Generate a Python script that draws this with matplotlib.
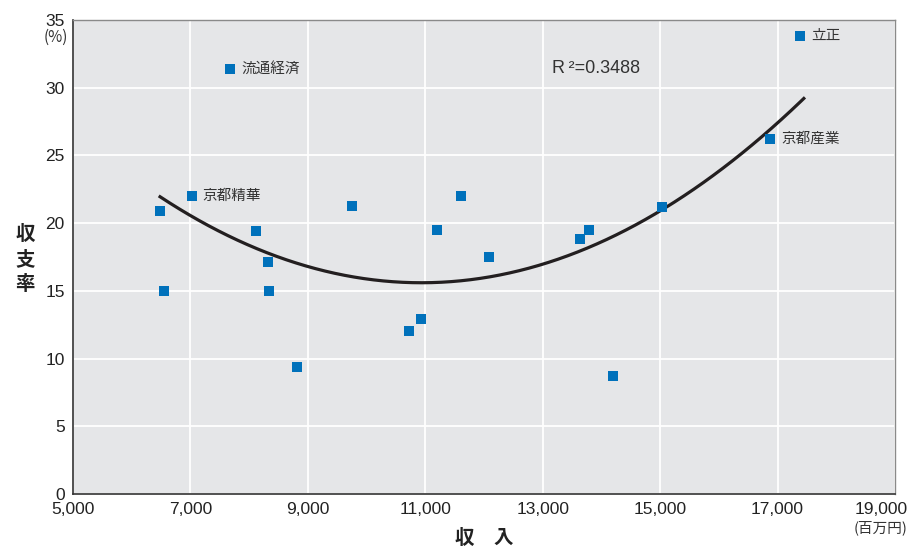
import numpy as np
import matplotlib
matplotlib.use("Agg")
import matplotlib.pyplot as plt
from matplotlib.transforms import ScaledTranslation

# income (million yen) / balance ratio (%)
income = [7680, 17380, 16870, 7020, 6480, 8110, 9750, 11600, 11200, 12090,
          15040, 13780, 13630, 6550, 8320, 8340, 10730, 10930, 8810, 14190]
ratio = [31.4, 33.8, 26.2, 22.0, 20.9, 19.45, 21.3, 22.0, 19.5, 17.5,
         21.2, 19.5, 18.8, 15.0, 17.1, 15.0, 12.05, 12.9, 9.4, 8.7]
names = ["流通経済", "立正", "京都産業", "京都精華"] + [""] * 16

# quadratic trend line: y = a*(x-h)^2 + k
trend_a = 3.207e-7
trend_h = 10933
trend_k = 15.6
trend_range = [6483, 17447]
r2_text = "R\u2009\u00b2=0.3488"

xticks = [5000, 7000, 9000, 11000, 13000, 15000, 17000, 19000]
yticks = [0, 5, 10, 15, 20, 25, 30, 35]

jp = ["Noto Sans CJK JP", "DejaVu Sans"]
num = ["Liberation Sans", "DejaVu Sans"]

fig = plt.figure(figsize=(9.09, 5.5), dpi=100)
ax = fig.add_axes([0.0803, 0.1018, 0.9043, 0.8618])
ax.set_facecolor("#e5e6e8")

ax.scatter(income, ratio, marker="s", s=52, color="#0071bb", zorder=3, linewidths=0)

for x, y, n in zip(income, ratio, names):
    if n:
        ax.annotate(n, (x, y), xytext=(8, 0), textcoords="offset points",
                    va="center", ha="left", fontsize=10.5, family=jp, color="#333333")

xs = np.linspace(trend_range[0], trend_range[1], 200)
ax.plot(xs, trend_a * (xs - trend_h) ** 2 + trend_k, color="#231f20", lw=2.3, zorder=2)

ax.text(13150, 31.1, r2_text, fontsize=13, family=num, color="#333333")

ax.set_xlim(5000, 19000)
ax.set_ylim(0, 35)
ax.set_xticks(xticks)
ax.set_yticks(yticks)
ax.set_xticklabels([f"{v:,}" for v in xticks], family=num, fontsize=12.5, color="#222222")
ax.set_yticklabels([str(v) for v in yticks], family=num, fontsize=12.5, color="#222222")
ax.tick_params(length=0, pad=6)
ax.grid(color="white", lw=1.3)
ax.set_axisbelow(True)

# last x label sits a bit left so it stays inside the picture
last = ax.get_xticklabels()[-1]
last.set_transform(last.get_transform() + ScaledTranslation(-0.14, 0, fig.dpi_scale_trans))

for s in ["left", "bottom"]:
    ax.spines[s].set_color("#333333")
    ax.spines[s].set_linewidth(1.2)
for s in ["top", "right"]:
    ax.spines[s].set_color("#8a8a8a")
    ax.spines[s].set_linewidth(1.0)

fig.text(0.061, 0.933, "(%)", fontsize=11, family=jp, ha="center", va="center", color="#333333")
fig.text(0.969, 0.04, "(百万円)", fontsize=10.5, family=jp, ha="center", va="center", color="#333333")
fig.text(0.028, 0.528, "収\n支\n率", fontsize=14, family=jp, weight="bold", ha="center",
         va="center", linespacing=1.4, color="#222222")
fig.text(0.533, 0.02, "収　入", fontsize=14, family=jp, weight="bold", ha="center",
         va="center", color="#222222")

plt.savefig("out.png", dpi=100)
